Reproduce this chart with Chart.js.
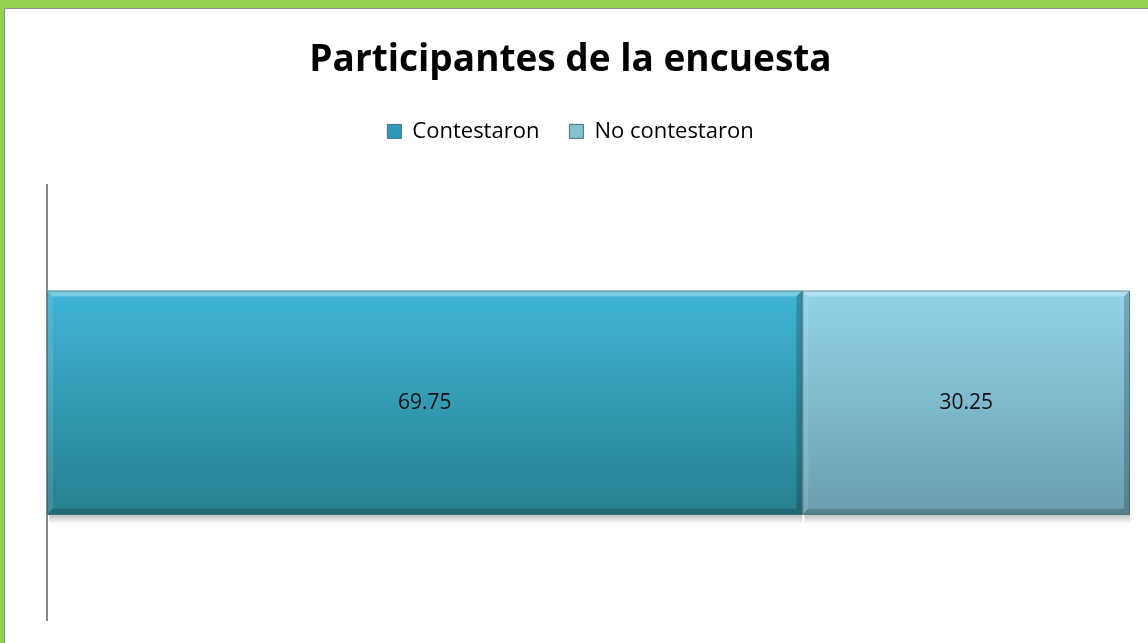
<!DOCTYPE html>
<html>
<head>
<meta charset="utf-8">
<script src="https://cdn.jsdelivr.net/npm/chart.js@4.4.1/dist/chart.umd.min.js"></script>
<style>
  html, body { margin: 0; padding: 0; }
  body { background: #92d050; width: 1148px; height: 643px; overflow: hidden; position: relative; }
  #frame {
    position: absolute; left: 4px; top: 8px; width: 1143px; height: 634px;
    background: #fff; border-top: 1px solid #8c8c8c; border-left: 1px solid #8c8c8c;
  }
</style>
</head>
<body>
<div id="frame"><canvas id="chart" width="1143" height="634"></canvas></div>
<script>
// datos de la encuesta
const categorias = ['Participantes'];
const contestaron = [69.75];
const noContestaron = [30.25];
const series = ['Contestaron', 'No contestaron'];

// colores (arriba / abajo del degradado)
const coloresArriba = ['#3fb5d6', '#92d3ea'];
const coloresAbajo = ['#27808f', '#6a9fae'];
const coloresLeyenda = ['#2f9ab8', '#84bfd2'];
const grosorBarra = 0.516;

function degradado(i) {
  return function (ctx) {
    const chart = ctx.chart;
    const area = chart.chartArea;
    const y = chart.scales.y;
    if (!area || !y) return coloresArriba[i];
    const centro = y.getPixelForValue(0);
    const medio = (area.bottom - area.top) * grosorBarra / 2;
    if (!isFinite(centro) || !isFinite(medio)) return coloresArriba[i];
    const g = chart.ctx.createLinearGradient(0, centro - medio, 0, centro + medio);
    g.addColorStop(0, coloresArriba[i]);
    g.addColorStop(1, coloresAbajo[i]);
    return g;
  };
}

// espacio extra bajo la leyenda
const margenLeyenda = {
  id: 'margenLeyenda',
  beforeInit(chart) {
    const fit = chart.legend.fit;
    chart.legend.fit = function () {
      fit.bind(chart.legend)();
      this.height += 33;
    };
  }
};

// biseles y sombra de las barras
const bisel = {
  id: 'bisel',
  beforeDatasetsDraw(chart) {
    const c = chart.ctx;
    chart.data.datasets.forEach((ds, i) => {
      chart.getDatasetMeta(i).data.forEach(el => {
        const left = Math.min(el.x, el.base), right = Math.max(el.x, el.base);
        const bottom = el.y + el.height / 2;
        const g = c.createLinearGradient(0, bottom, 0, bottom + 9);
        g.addColorStop(0, 'rgba(0,0,0,0.25)');
        g.addColorStop(1, 'rgba(0,0,0,0)');
        c.save();
        c.fillStyle = g;
        c.fillRect(left + 2, bottom, right - left - 2, 9);
        c.restore();
      });
    });
  },
  afterDatasetsDraw(chart) {
    const c = chart.ctx;
    chart.data.datasets.forEach((ds, i) => {
      chart.getDatasetMeta(i).data.forEach(el => {
        const left = Math.min(el.x, el.base), right = Math.max(el.x, el.base);
        const top = el.y - el.height / 2, bottom = el.y + el.height / 2;
        const b = 6;
        c.save();
        // arriba claro
        c.fillStyle = 'rgba(255,255,255,0.3)';
        c.beginPath();
        c.moveTo(left, top); c.lineTo(right, top); c.lineTo(right - b, top + b); c.lineTo(left + b, top + b); c.closePath();
        c.fill();
        // abajo oscuro
        c.fillStyle = 'rgba(0,0,0,0.18)';
        c.beginPath();
        c.moveTo(left, bottom); c.lineTo(right, bottom); c.lineTo(right - b, bottom - b); c.lineTo(left + b, bottom - b); c.closePath();
        c.fill();
        // izquierda
        c.fillStyle = 'rgba(255,255,255,0.1)';
        c.beginPath();
        c.moveTo(left, top); c.lineTo(left + b, top + b); c.lineTo(left + b, bottom - b); c.lineTo(left, bottom); c.closePath();
        c.fill();
        // derecha
        c.fillStyle = 'rgba(0,0,0,0.2)';
        c.beginPath();
        c.moveTo(right, top); c.lineTo(right - b, top + b); c.lineTo(right - b, bottom - b); c.lineTo(right, bottom); c.closePath();
        c.fill();
        c.strokeStyle = 'rgba(60,80,90,0.5)';
        c.lineWidth = 1;
        c.strokeRect(left + 0.5, top + 0.5, right - left - 1, bottom - top - 1);
        c.restore();
      });
    });
  }
};

// etiquetas de valor en el centro de cada barra
const etiquetas = {
  id: 'etiquetas',
  afterDatasetsDraw(chart) {
    const c = chart.ctx;
    c.save();
    c.font = '21px "Open Sans", sans-serif';
    c.fillStyle = '#111';
    c.textAlign = 'center';
    c.textBaseline = 'middle';
    chart.data.datasets.forEach((ds, i) => {
      chart.getDatasetMeta(i).data.forEach((el, j) => {
        c.fillText(String(ds.data[j]), (el.x + el.base) / 2, el.y);
      });
    });
    c.restore();
  }
};

new Chart(document.getElementById('chart'), {
  type: 'bar',
  data: {
    labels: categorias,
    datasets: [
      { label: series[0], data: contestaron, backgroundColor: degradado(0), borderWidth: 0 },
      { label: series[1], data: noContestaron, backgroundColor: degradado(1), borderWidth: 0 }
    ]
  },
  options: {
    indexAxis: 'y',
    responsive: false,
    animation: false,
    layout: { padding: { top: 0, left: 6, right: 18, bottom: 23 } },
    datasets: { bar: { categoryPercentage: 1, barPercentage: grosorBarra } },
    scales: {
      x: { stacked: true, min: 0, max: 100, display: false },
      y: {
        stacked: true,
        ticks: { display: false },
        grid: { display: false },
        border: { display: true, color: '#888888', width: 2 },
        afterFit(scale) { scale.width += 28; }
      }
    },
    plugins: {
      title: {
        display: true,
        text: 'Participantes de la encuesta',
        color: '#000',
        font: { family: '"Open Sans", sans-serif', size: 37, weight: 'bold' },
        padding: { top: 29, bottom: 8 }
      },
      legend: {
        display: true,
        labels: {
          color: '#000',
          font: { family: '"Open Sans", sans-serif', size: 22 },
          boxWidth: 14,
          boxHeight: 14,
          padding: 30,
          generateLabels(chart) {
            const items = Chart.defaults.plugins.legend.labels.generateLabels(chart);
            items.forEach((it, i) => {
              it.fillStyle = coloresLeyenda[i];
              it.strokeStyle = '#4a6f7a';
              it.lineWidth = 1;
            });
            return items;
          }
        }
      },
      tooltip: { enabled: false }
    }
  },
  plugins: [margenLeyenda, bisel, etiquetas]
});
</script>
</body>
</html>
